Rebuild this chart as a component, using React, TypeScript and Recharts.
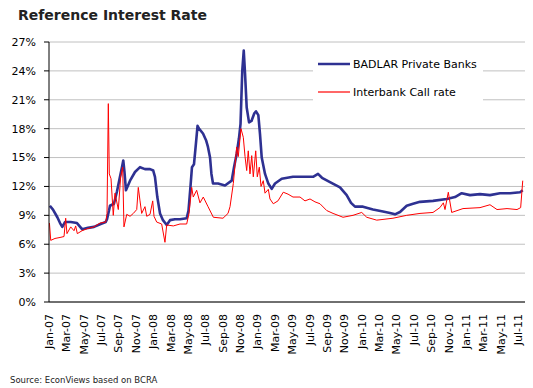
import React from 'react';
import { LineChart, Line, XAxis, YAxis, CartesianGrid, Legend } from 'recharts';

// Months since 1 Jan 2007 (x) and rates in percent
const badlarMonths = [
  0.1, 0.46, 0.96, 1.27, 1.53, 1.84, 2.5, 3.22, 3.83, 4.49, 5.18, 5.95, 6.53, 6.68, 6.91, 7.02,
  7.48, 7.83, 8.17, 8.4, 8.55, 8.69, 8.86, 9.33, 9.9, 10.48, 11.05, 11.63, 12.0, 12.2, 12.47,
  12.78, 13.12, 13.55, 13.93, 14.5, 15.08, 15.85, 16.06, 16.29, 16.46, 16.69, 16.92, 17.1, 17.27,
  17.73, 18.08, 18.3, 18.54, 18.7, 18.88, 19.46, 20.26, 21.03, 21.3, 21.61, 21.87, 22.05, 22.25,
  22.42, 22.57, 22.76, 23.03, 23.31, 23.64, 23.83, 24.1, 24.29, 24.49, 24.87, 25.25, 25.64, 26.02,
  26.79, 28.09, 29.47, 30.4, 30.97, 31.43, 32.35, 33.5, 34.27, 34.77, 35.23, 36.15, 37.3, 38.45,
  39.26, 39.83, 40.41, 41.18, 41.91, 42.71, 44.21, 45.79, 46.74, 47.51, 48.47, 49.62, 50.77,
  51.92, 53.08, 54.23, 54.54,
];
const badlarRates = [
  10.0, 9.6, 8.8, 8.2, 7.8, 8.3, 8.3, 8.2, 7.55, 7.7, 7.8, 8.1, 8.3, 8.6, 9.5, 10.0,
  10.2, 11.5, 13.0, 14.0, 14.7, 13.5, 11.6, 12.6, 13.5, 14.0, 13.8, 13.8, 13.65, 13.0, 10.9,
  9.2, 8.5, 8.0, 8.5, 8.6, 8.6, 8.7, 9.5, 12.0, 14.0, 14.3, 16.5, 18.3, 18.0,
  17.5, 16.8, 16.1, 15.0, 13.3, 12.3, 12.3, 12.1, 12.6, 14.0, 15.4, 17.0, 18.5, 24.0,
  26.1, 23.7, 20.2, 18.65, 18.8, 19.6, 19.8, 19.4, 17.45, 15.0, 13.3, 12.3, 11.75, 12.3,
  12.8, 13.0, 13.0, 13.0, 13.3, 12.9, 12.45, 11.9, 11.1, 10.3, 9.9, 9.9, 9.6, 9.4,
  9.25, 9.1, 9.35, 10.0, 10.2, 10.4, 10.5, 10.7, 10.9, 11.3, 11.1, 11.2, 11.1,
  11.3, 11.3, 11.4, 11.6,
];

const callMonths = [
  0.05, 0.2, 0.69, 1.27, 1.73, 1.92, 2.07, 2.5, 2.88, 3.07, 3.26, 3.8, 4.37, 5.18, 5.87, 6.53,
  6.68, 6.83, 6.94, 7.14, 7.4, 7.6, 7.98, 8.25, 8.48, 8.63, 8.95, 9.33, 9.71, 10.1, 10.28, 10.48,
  10.67, 11.05, 11.25, 11.63, 11.94, 12.09, 12.4, 12.97, 13.35, 13.55, 14.31, 15.08, 15.85, 16.12,
  16.43, 16.61, 17.0, 17.38, 17.76, 18.31, 18.92, 20.03, 20.61, 20.84, 21.22, 21.61, 21.79, 22.1,
  22.37, 22.57, 22.76, 22.94, 23.14, 23.34, 23.52, 23.8, 23.98, 24.21, 24.41, 24.67, 24.87, 25.25,
  25.44, 25.82, 26.36, 26.97, 27.52, 28.09, 28.9, 29.47, 30.05, 30.62, 31.2, 31.97, 32.7, 33.85,
  35.0, 36.0, 36.58, 37.73, 39.6, 41.18, 42.71, 44.21, 45.0, 45.4, 45.59, 45.97, 46.36, 47.66,
  49.62, 50.77, 51.58, 52.73, 53.88, 54.3, 54.54,
];
const callRates = [
  8.2, 6.4, 6.6, 6.7, 6.8, 8.7, 7.1, 7.8, 7.4, 7.9, 7.1, 7.4, 7.6, 7.8, 8.2, 8.3,
  9.2, 20.6, 13.3, 12.8, 9.0, 11.3, 9.6, 13.0, 14.0, 7.8, 9.1, 8.9, 9.2, 9.6, 11.9, 10.5,
  9.2, 9.9, 8.9, 9.1, 10.5, 8.9, 8.3, 8.1, 6.2, 8.0, 7.9, 8.1, 8.1, 9.2,
  11.9, 10.9, 11.6, 10.3, 10.9, 9.9, 8.8, 8.7, 9.2, 9.9, 12.3, 16.1, 15.1, 18.0,
  17.1, 15.1, 13.65, 15.7, 13.3, 15.2, 13.0, 15.7, 13.0, 14.0, 12.0, 12.6, 11.3, 11.7,
  10.7, 10.2, 10.5, 11.4, 11.2, 10.9, 10.9, 10.5, 10.7, 10.4, 10.2, 9.5, 9.2, 8.8,
  9.0, 9.3, 8.8, 8.5, 8.7, 9.0, 9.2, 9.3, 9.8, 10.3, 9.6, 11.4, 9.3, 9.7,
  9.8, 10.1, 9.6, 9.7, 9.6, 9.8, 12.6,
];

const tickMonths = [
  0, 2, 4, 6, 8, 10, 12, 14, 16, 18, 20, 22, 24, 26, 28, 30, 32, 34, 36, 38, 40, 42, 44, 46, 48, 50, 52, 54,
];
const tickLabels = [
  'Jan-07', 'Mar-07', 'May-07', 'Jul-07', 'Sep-07', 'Nov-07',
  'Jan-08', 'Mar-08', 'May-08', 'Jul-08', 'Sep-08', 'Nov-08',
  'Jan-09', 'Mar-09', 'May-09', 'Jul-09', 'Sep-09', 'Nov-09',
  'Jan-10', 'Mar-10', 'May-10', 'Jul-10', 'Sep-10', 'Nov-10',
  'Jan-11', 'Mar-11', 'May-11', 'Jul-11',
];
const yTicks = [0, 3, 6, 9, 12, 15, 18, 21, 24, 27];

const badlarData = badlarMonths.map((m, i) => ({ month: m, badlar: badlarRates[i] }));
const callData = callMonths.map((m, i) => ({ month: m, call: callRates[i] }));

const FONT = 'DejaVu Sans';
const BLUE = '#2E3192';
const RED = '#FF0000';

const XTick = (props: any) => {
  const { x, y, payload } = props;
  const i = tickMonths.indexOf(payload.value);
  const tx = x + 4;
  const ty = y + 12;
  return (
    <text
      x={tx}
      y={ty}
      transform={`rotate(-90, ${tx}, ${ty})`}
      textAnchor="end"
      fontSize={11}
      fontFamily={FONT}
      fill="#000"
    >
      {i >= 0 ? tickLabels[i] : ''}
    </text>
  );
};

const LegendBox = (props: any) => {
  const payload = props.payload || [];
  return (
    <svg width={170} height={56} style={{ display: 'block', background: '#fff' }}>
      {payload.map((p: any, i: number) => (
        <g key={i}>
          <line
            x1={5}
            x2={37}
            y1={12 + i * 28}
            y2={12 + i * 28}
            stroke={p.color}
            strokeWidth={i === 0 ? 2.5 : 1.2}
          />
          <text
            x={40}
            y={12 + i * 28}
            dy="0.35em"
            fontSize={11}
            fontFamily={FONT}
            fill="#000"
          >
            {p.value}
          </text>
        </g>
      ))}
    </svg>
  );
};

export default function App() {
  return (
    <div style={{ position: 'absolute', left: 0, top: 0, width: 533, height: 388, background: '#fff' }}>
      <LineChart width={533} height={388} margin={{ top: 42, right: 8, bottom: 0, left: 0 }}>
        <CartesianGrid vertical={false} stroke="#C0C0C0" strokeWidth={1} />
        <XAxis
          dataKey="month"
          type="number"
          domain={[0, 54.8]}
          ticks={tickMonths}
          interval={0}
          allowDataOverflow
          height={86}
          tickSize={0}
          tickMargin={0}
          tickLine={false}
          axisLine={{ stroke: '#000', strokeWidth: 1 }}
          tick={<XTick />}
        />
        <YAxis
          type="number"
          domain={[0, 27]}
          ticks={yTicks}
          interval={0}
          width={49}
          tickSize={5}
          tickMargin={8}
          tickFormatter={(v: number) => `${v}%`}
          axisLine={{ stroke: '#000', strokeWidth: 1 }}
          tickLine={{ stroke: '#000' }}
          tick={{ fontSize: 11, fontFamily: FONT, fill: '#000' }}
        />
        <Legend
          layout="vertical"
          align="center"
          verticalAlign="middle"
          content={<LegendBox />}
          wrapperStyle={{ left: 313, top: 52, width: 170, height: 56 }}
        />
        <Line
          data={badlarData}
          dataKey="badlar"
          name="BADLAR Private Banks"
          stroke={BLUE}
          strokeWidth={2.6}
          dot={false}
          strokeLinejoin="round"
          isAnimationActive={false}
        />
        <Line
          data={callData}
          dataKey="call"
          name="Interbank Call rate"
          stroke={RED}
          strokeWidth={1}
          dot={false}
          isAnimationActive={false}
        />
      </LineChart>
      <svg
        width={533}
        height={388}
        style={{ position: 'absolute', left: 0, top: 0, pointerEvents: 'none' }}
      >
        <text x={18} y={20} fontSize={14} fontWeight="bold" fontFamily={FONT} fill="#222">
          Reference Interest Rate
        </text>
        <text x={10} y={383} fontSize={8.5} fontFamily={FONT} fill="#222">
          Source: EconViews based on BCRA
        </text>
      </svg>
    </div>
  );
}
